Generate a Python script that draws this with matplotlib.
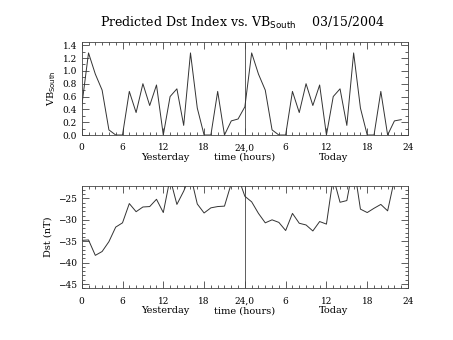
import numpy as np
import matplotlib
matplotlib.use("Agg")
import matplotlib.pyplot as plt
from matplotlib.ticker import MultipleLocator

plt.rcParams['font.family'] = 'DejaVu Serif'

# hours since start of yesterday (0..47)
hours = np.arange(48)

# VB_south, yesterday then today
vb_yesterday = [0.45, 1.28, 0.95, 0.70, 0.08, 0.0, 0.0, 0.68, 0.35, 0.80,
                0.46, 0.78, 0.0, 0.60, 0.72, 0.15, 1.28, 0.42, 0.0, 0.0,
                0.68, 0.0, 0.22, 0.25]
vb_today = [0.44, 1.28, 0.95, 0.70, 0.08, 0.0, 0.0, 0.68, 0.35, 0.80,
            0.46, 0.78, 0.0, 0.60, 0.72, 0.15, 1.28, 0.42, 0.0, 0.0,
            0.68, 0.0, 0.22, 0.24]

# predicted Dst (nT)
dst_yesterday = [-34.8, -34.7, -38.3, -37.4, -35.1, -31.7, -30.7, -26.2, -28.1, -27.0,
                 -26.9, -25.2, -28.3, -20.3, -26.4, -23.3, -19.5, -26.3, -28.4, -27.2,
                 -26.9, -26.8, -21.5, -20.0]
dst_today = [-24.5, -25.8, -28.5, -30.7, -30.0, -30.6, -32.5, -28.5, -30.8, -31.2,
             -32.6, -30.4, -31.0, -20.0, -25.9, -25.5, -17.0, -27.5, -28.3, -27.3,
             -26.4, -27.9, -20.6, -19.0]

xticks = [0, 6, 12, 18, 24, 30, 36, 42, 48]
xticklabels = ['0', '6', '12', '18', '24,0', '6', '12', '18', '24']

vb = vb_yesterday + vb_today
dst = dst_yesterday + dst_today

fig = plt.figure(figsize=(4.53, 3.4), dpi=100)
ax1 = fig.add_axes([0.1804, 0.6029, 0.7203, 0.2735])
ax2 = fig.add_axes([0.1804, 0.152, 0.7203, 0.3009])

for ax in (ax1, ax2):
    ax.set_xlim(0, 48)
    ax.set_xticks(xticks)
    ax.set_xticklabels(xticklabels)
    ax.xaxis.set_minor_locator(MultipleLocator(1))
    ax.tick_params(which='both', direction='in', top=True, right=True,
                   labelsize=6.5, width=0.6, color='#444444')
    ax.tick_params(axis='x', pad=6)
    ax.tick_params(axis='y', pad=3.5)
    ax.tick_params(which='major', length=5)
    ax.tick_params(which='minor', length=2.5)
    for s in ax.spines.values():
        s.set_linewidth(0.6)
        s.set_color('#444444')
    ax.axvline(24, color='#444444', lw=0.6)
    for xpos, lab in ((12.3, 'Yesterday'), (24, 'time (hours)'), (37, 'Today')):
        ax.annotate(lab, xy=(xpos, 0), xycoords=('data', 'axes fraction'),
                    xytext=(0, -16), textcoords='offset points',
                    ha='center', va='center', fontsize=7)

ax1.plot(hours, vb, color='#333333', lw=0.7)
ax1.set_ylim(0, 1.45)
ax1.set_yticks(np.arange(0, 1.41, 0.2))
ax1.set_yticklabels(['%.1f' % v for v in np.arange(0, 1.41, 0.2)])
ax1.yaxis.set_minor_locator(MultipleLocator(0.1))
ax1.set_ylabel('VB$_{\\rm South}$', fontsize=7, labelpad=3)

ax2.plot(hours, dst, color='#333333', lw=0.7)
ax2.set_ylim(-46, -22.1)
ax2.set_yticks([-45, -40, -35, -30, -25])
ax2.yaxis.set_minor_locator(MultipleLocator(1))
ax2.set_ylabel('Dst (nT)', fontsize=7, labelpad=4)

fig.text(0.535, 0.92, 'Predicted Dst Index vs. VB$_{\\rm South}$    03/15/2004',
         ha='center', va='baseline', fontsize=9)

fig.savefig('out.png', dpi=100)
